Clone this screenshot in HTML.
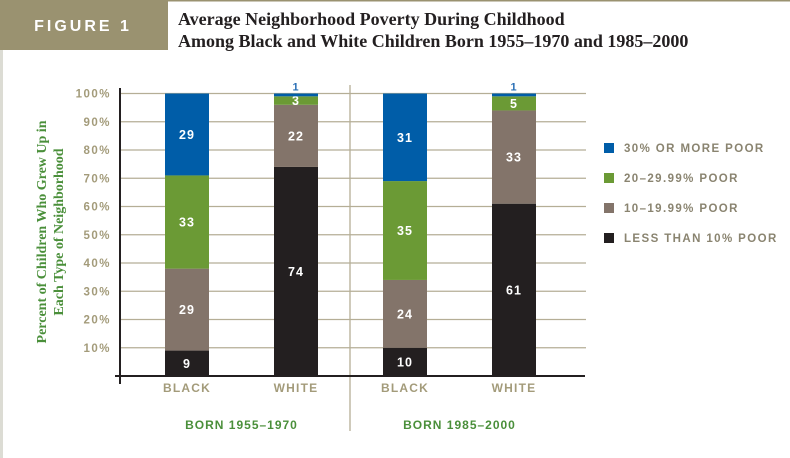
<!DOCTYPE html>
<html><head><meta charset="utf-8"><style>
body{margin:0;background:#fff;}
#wrap{position:relative;width:790px;height:458px;overflow:hidden;background:#fff;}
</style></head><body>
<div id="wrap">
<svg id="chart" width="790" height="458" xmlns="http://www.w3.org/2000/svg">
<rect x="0" y="0" width="790" height="1.5" fill="#9a9270"/>
<rect x="0" y="0" width="168" height="50" fill="#9a9270"/>
<rect x="0" y="50" width="3" height="408" fill="#dcdcd4"/>
<text x="83" y="31" text-anchor="middle" fill="#fff" font-family="Liberation Sans, sans-serif" font-weight="bold" font-size="16" letter-spacing="3">FIGURE 1</text>
<text x="178" y="25" fill="#231f20" font-family="Liberation Serif, serif" font-weight="bold" font-size="18">Average Neighborhood Poverty During Childhood</text>
<text x="178" y="47" fill="#231f20" font-family="Liberation Serif, serif" font-weight="bold" font-size="18">Among Black and White Children Born 1955–1970 and 1985–2000</text>
<g transform="translate(50,232) rotate(-90)">
<text x="0" y="-4" text-anchor="middle" fill="#4a8f3a" font-family="Liberation Serif, serif" font-weight="bold" font-size="14">Percent of Children Who Grew Up in</text>
<text x="0" y="13" text-anchor="middle" fill="#4a8f3a" font-family="Liberation Serif, serif" font-weight="bold" font-size="14">Each Type of Neighborhood</text>
</g>
<g id="grid"></g><g id="bars"></g><g id="legend"></g>
</svg>
</div>
<script>
const categories=["BLACK","WHITE","BLACK","WHITE"];
const groups=["BORN 1955–1970","BORN 1985–2000"];
const seriesNames=["LESS THAN 10% POOR","10–19.99% POOR","20–29.99% POOR","30% OR MORE POOR"];
const less10=[9,74,10,61];
const p10to20=[29,22,24,33];
const p20to30=[33,3,35,5];
const p30plus=[29,1,31,1];
const yTicks=[10,20,30,40,50,60,70,80,90,100];
const colors=["#231f20","#83746a","#6b9a35","#005da8"];
const NS="http://www.w3.org/2000/svg";
const y0=376,yTop=93.5;
function yS(v){return y0-(y0-yTop)*v/100;}
const barX=[165,274,383,492],barW=44;
function mk(t,a,p){const e=document.createElementNS(NS,t);for(const k in a)e.setAttribute(k,a[k]);p.appendChild(e);return e;}
const grid=document.getElementById('grid');
yTicks.forEach(t=>{
 const l=mk('line',{x1:120,x2:586,y1:yS(t),y2:yS(t),stroke:'#b5ae96','stroke-width':1.3},grid);
 
 
 const tx=mk('text',{x:111,y:yS(t)+4,'text-anchor':'end',fill:'#a39b7a','font-family':'Liberation Sans, sans-serif','font-weight':'bold','font-size':11.5,'letter-spacing':'1.5'},grid);
 tx.textContent=t+'%';
 
 
});
const sep=mk('line',{x1:350,x2:350,y1:85,y2:431,stroke:'#b5ae96','stroke-width':1.3},grid);


const ya=mk('line',{x1:120,x2:120,y1:88,y2:384,stroke:'#231f20','stroke-width':2},grid);


const xa=mk('line',{x1:115,x2:585,y1:y0,y2:y0,stroke:'#231f20','stroke-width':2},grid);


const bars=document.getElementById('bars');
const series=[less10,p10to20,p20to30,p30plus];
categories.forEach((c,i)=>{
 let acc=0;const cx=barX[i]+barW/2;
 series.forEach((s,k)=>{
  const v=s[i];const ya=yS(acc+v),yb=yS(acc);
  const r=mk('rect',{x:barX[i],y:ya,width:barW,height:yb-ya,fill:colors[k]},bars);
  
  
  const small=v<=1;
  const ty=small?ya-3:(ya+yb)/2+4.5;
  const t=mk('text',{x:cx,y:ty,'text-anchor':'middle',fill:small?'#2a6fb5':'#fff','font-family':'Liberation Sans, sans-serif','font-weight':'bold','font-size':small?11:12.5,'letter-spacing':'1'},bars);
  t.textContent=v;
  
  
  acc+=v;
 });
 const l=mk('text',{x:cx,y:392,'text-anchor':'middle',fill:'#a39b7a','font-family':'Liberation Sans, sans-serif','font-weight':'bold','font-size':12,'letter-spacing':'1.2'},bars);
 l.textContent=c;
 
 
});
groups.forEach((g,j)=>{
 const cx=(barX[j*2]+barX[j*2+1]+barW)/2;
 const t=mk('text',{x:cx,y:429,'text-anchor':'middle',fill:'#4a8f3a','font-family':'Liberation Sans, sans-serif','font-weight':'bold','font-size':12,'letter-spacing':'1'},bars);
 t.textContent=g;
 
 
});
const lg=document.getElementById('legend');
for(let k=3;k>=0;k--){
 const row=3-k;const yy=143+row*30;
 const s=mk('rect',{x:604,y:yy,width:10,height:10,fill:colors[k]},lg);
 
 
 const t=mk('text',{x:624,y:yy+9,fill:'#8a8470','font-family':'Liberation Sans, sans-serif','font-weight':'bold','font-size':11.5,'letter-spacing':'1.4'},lg);
 t.textContent=seriesNames[k];
 
 
}
</script>
</body></html>
